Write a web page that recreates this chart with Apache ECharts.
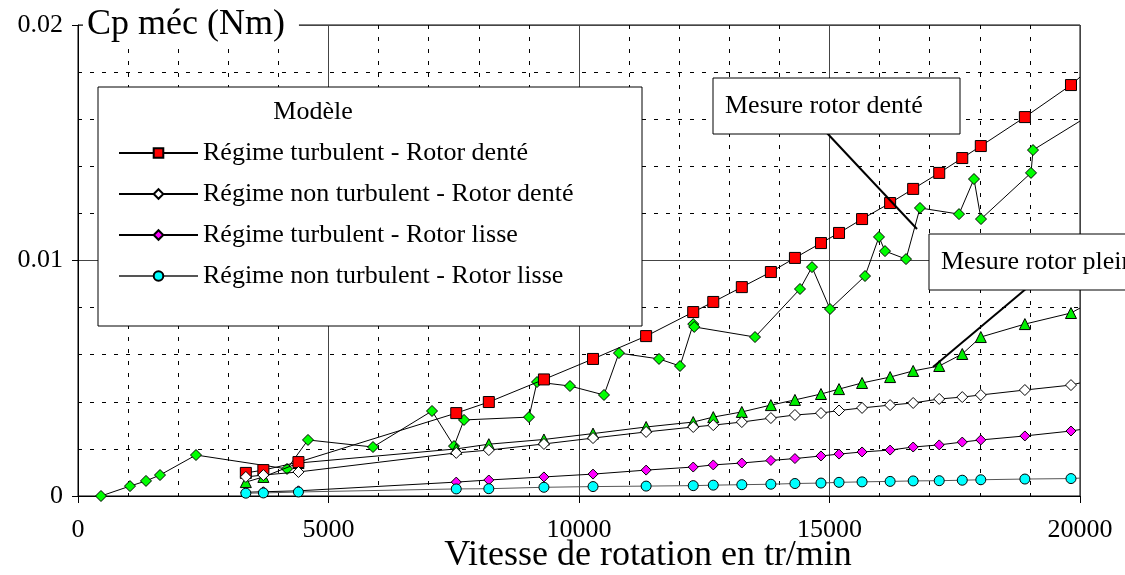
<!DOCTYPE html>
<html>
<head>
<meta charset="utf-8">
<script src="https://cdn.jsdelivr.net/npm/echarts/dist/echarts.min.js"></script>
<style>
html, body { margin: 0; padding: 0; background: #fff; }
#main { width: 1125px; height: 575px; }
</style>
</head>
<body>
<div id="main"></div>
<script>
// vitesses (tr/min) des points du modele et de la mesure rotor plein
var speedModel = [3350, 3700, 4400, 7550, 8200, 9300, 10280, 11340, 12280, 12680, 13250, 13830,
    14310, 14830, 15190, 15650, 16210, 16670, 17190, 17650, 18020, 18900, 19820];

// Cp mec (Nm) - modele
var turbDente = [0.00098, 0.00110, 0.00144, 0.00352, 0.00399, 0.00495, 0.00582, 0.00679, 0.00781, 0.00824,
    0.00887, 0.00951, 0.01011, 0.01074, 0.01117, 0.01176, 0.01244, 0.01304, 0.01372, 0.01435, 0.01486, 0.01609, 0.01745];
var nonTurbDente = [0.00081, 0.00089, 0.00102, 0.00183, 0.00195, 0.00221, 0.00246, 0.00272, 0.00293, 0.00301,
    0.00314, 0.00331, 0.00344, 0.00352, 0.00363, 0.00374, 0.00386, 0.00395, 0.00412, 0.00420, 0.00429, 0.00450, 0.00471];
var turbLisse = [0.00016, 0.00018, 0.00022, 0.00059, 0.00068, 0.00081, 0.00093, 0.00110, 0.00123, 0.00132,
    0.00140, 0.00151, 0.00159, 0.00170, 0.00178, 0.00187, 0.00195, 0.00208, 0.00217, 0.00229, 0.00238, 0.00255, 0.00276];
var nonTurbLisse = [0.00012, 0.00013, 0.00017, 0.00030, 0.00031, 0.00037, 0.00040, 0.00042, 0.00044, 0.00046,
    0.00048, 0.00050, 0.00053, 0.00055, 0.00058, 0.00060, 0.00062, 0.00064, 0.00065, 0.00067, 0.00069, 0.00072, 0.00074];

// mesures
var mesurePlein = [0.00059, 0.00081, 0.00140, 0.00200, 0.00220, 0.00240, 0.00265, 0.00293, 0.00314, 0.00335,
    0.00357, 0.00386, 0.00408, 0.00433, 0.00454, 0.00480, 0.00505, 0.00531, 0.00552, 0.00603, 0.00675, 0.00730, 0.00777];
var speedDente = [459, 1038, 1357, 1637, 2355, 4172, 4591, 5888, 7066, 7505, 7705, 9002, 9162, 9820, 10499, 10798,
    11597, 12016, 12280, 12300, 13513, 14411, 14651, 15010, 15709, 15988, 16108, 16527, 16806, 17585, 17884, 18024, 19022, 19062];
var mesureDente = [0, 0.00042, 0.00064, 0.00089, 0.00174, 0.00115, 0.00238, 0.00208, 0.00361, 0.00212, 0.00323, 0.00335,
    0.00484, 0.00467, 0.00429, 0.00607, 0.00582, 0.00552, 0.00730, 0.00718, 0.00675, 0.00879, 0.00972, 0.00794, 0.00934,
    0.01100, 0.01040, 0.01006, 0.01223, 0.01197, 0.01346, 0.01176, 0.01372, 0.01469];

// les courbes sont prolongees jusqu'a 20000 tr/min (sans marqueur)
var xEnd = 20000;
var endTurbDente = 0.01779, endNonTurbDente = 0.00480, endTurbLisse = 0.00282, endNonTurbLisse = 0.00076;
var endPlein = 0.00798, endDente = 0.01592;

var xTicks = [0, 5000, 10000, 15000, 20000];
var yTicks = [0, 0.01, 0.02];

var FONT = 'Liberation Serif';

function pairs(xs, ys, yEnd) {
    var d = xs.map(function (x, i) { return [x, ys[i]]; });
    d.push({ value: [xEnd, yEnd], symbol: 'none' });
    return d;
}

function serie(name, xs, ys, yEnd, symbol, size, color, z, lineColor) {
    return {
        name: name,
        type: 'line',
        data: pairs(xs, ys, yEnd),
        symbol: symbol,
        symbolSize: size,
        showAllSymbol: true,
        z: z,
        lineStyle: { color: lineColor || '#000', width: 1 },
        itemStyle: { color: color, borderColor: '#000', borderWidth: 1 },
        emphasis: { disabled: true },
        animation: false
    };
}

var chart = echarts.init(document.getElementById('main'));

var option = {
    animation: false,
    grid: { left: 78, right: 45, top: 25, bottom: 79, containLabel: false, show: true, borderColor: '#000', borderWidth: 1 },
    xAxis: {
        type: 'value',
        min: xTicks[0],
        max: xTicks[xTicks.length - 1],
        interval: 5000,
        axisLine: { lineStyle: { color: '#000', width: 1 } },
        axisTick: { show: true, length: 7, lineStyle: { color: '#000' } },
        axisLabel: { margin: 21, color: '#000', fontFamily: FONT, fontSize: 26,
            formatter: function (v) { return String(v); } },
        splitLine: { show: true, lineStyle: { color: '#444', width: 1 } },
        minorTick: { show: false, splitNumber: 5 },
        minorSplitLine: { show: true, lineStyle: { color: '#000', width: 1, type: [4, 8] } }
    },
    yAxis: {
        type: 'value',
        min: yTicks[0],
        max: yTicks[yTicks.length - 1],
        interval: 0.01,
        axisLine: { show: true, lineStyle: { color: '#000', width: 1 } },
        axisTick: { show: true, length: 6, lineStyle: { color: '#000' } },
        axisLabel: { margin: 15, color: '#000', fontFamily: FONT, fontSize: 26,
            formatter: function (v) { return String(v); } },
        splitLine: { show: true, lineStyle: { color: '#444', width: 1 } },
        minorTick: { show: false, splitNumber: 5 },
        minorSplitLine: { show: true, lineStyle: { color: '#000', width: 1, type: [4, 8] } }
    },
    legend: {
        data: [
            'Régime turbulent - Rotor denté',
            'Régime non turbulent - Rotor denté',
            'Régime turbulent - Rotor lisse',
            'Régime non turbulent - Rotor lisse'
        ],
        orient: 'vertical',
        left: 113,
        top: 135,
        itemWidth: 79,
        itemHeight: 12,
        itemGap: 15,
        selectedMode: false,
        z: 20,
        textStyle: { fontFamily: FONT, fontSize: 26, color: '#000', lineHeight: 26 }
    },
    graphic: [
        // cadre de la legende
        { type: 'rect', z: 15, shape: { x: 98, y: 87, width: 544, height: 239 },
          style: { fill: '#fff', stroke: '#000', lineWidth: 1 } },
        { type: 'text', z: 16, style: { text: 'Modèle', x: 313, y: 112, align: 'center', verticalAlign: 'middle',
          font: '26px "Liberation Serif"', fill: '#000' } },
        // titre axe y
        { type: 'text', z: 16, style: { text: 'Cp méc (Nm)', x: 83, y: 25, align: 'left', verticalAlign: 'middle',
          font: '36px "Liberation Serif"', fill: '#000', backgroundColor: '#fff', padding: [2, 14, 2, 4] } },
        // titre axe x
        { type: 'text', z: 16, style: { text: 'Vitesse de rotation en tr/min', x: 648, y: 556, align: 'center',
          verticalAlign: 'middle', font: '36px "Liberation Serif"', fill: '#000' } },
        // annotations
        { type: 'line', z: 15, shape: { x1: 826, y1: 132, x2: 917, y2: 229 }, style: { stroke: '#000', lineWidth: 2 } },
        { type: 'rect', z: 15, shape: { x: 713, y: 78, width: 247, height: 56 },
          style: { fill: '#fff', stroke: '#000', lineWidth: 1 } },
        { type: 'text', z: 16, style: { text: 'Mesure rotor denté', x: 725, y: 106, verticalAlign: 'middle',
          font: '26px "Liberation Serif"', fill: '#000' } },
        { type: 'line', z: 15, shape: { x1: 1027, y1: 288, x2: 933, y2: 367 }, style: { stroke: '#000', lineWidth: 2 } },
        { type: 'rect', z: 15, shape: { x: 929, y: 234, width: 260, height: 56 },
          style: { fill: '#fff', stroke: '#000', lineWidth: 1 } },
        { type: 'text', z: 16, style: { text: 'Mesure rotor plein', x: 941, y: 262, verticalAlign: 'middle',
          font: '26px "Liberation Serif"', fill: '#000' } }
    ],
    series: [
        serie('Mesure rotor denté', speedDente, mesureDente, endDente, 'diamond', 11, '#00ff00', 2),
        serie('Mesure rotor plein', speedModel, mesurePlein, endPlein, 'triangle', 11, '#00ee00', 3),
        serie('Régime turbulent - Rotor denté', speedModel, turbDente, endTurbDente, 'rect', 11, '#ff0000', 4),
        serie('Régime non turbulent - Rotor denté', speedModel, nonTurbDente, endNonTurbDente, 'diamond', 11, '#ffffff', 5),
        serie('Régime turbulent - Rotor lisse', speedModel, turbLisse, endTurbLisse, 'diamond', 10, '#ff00ff', 6),
        serie('Régime non turbulent - Rotor lisse', speedModel, nonTurbLisse, endNonTurbLisse, 'circle', 10, '#00ffff', 7, '#555')
    ]
};

chart.setOption(option);
</script>
</body>
</html>
